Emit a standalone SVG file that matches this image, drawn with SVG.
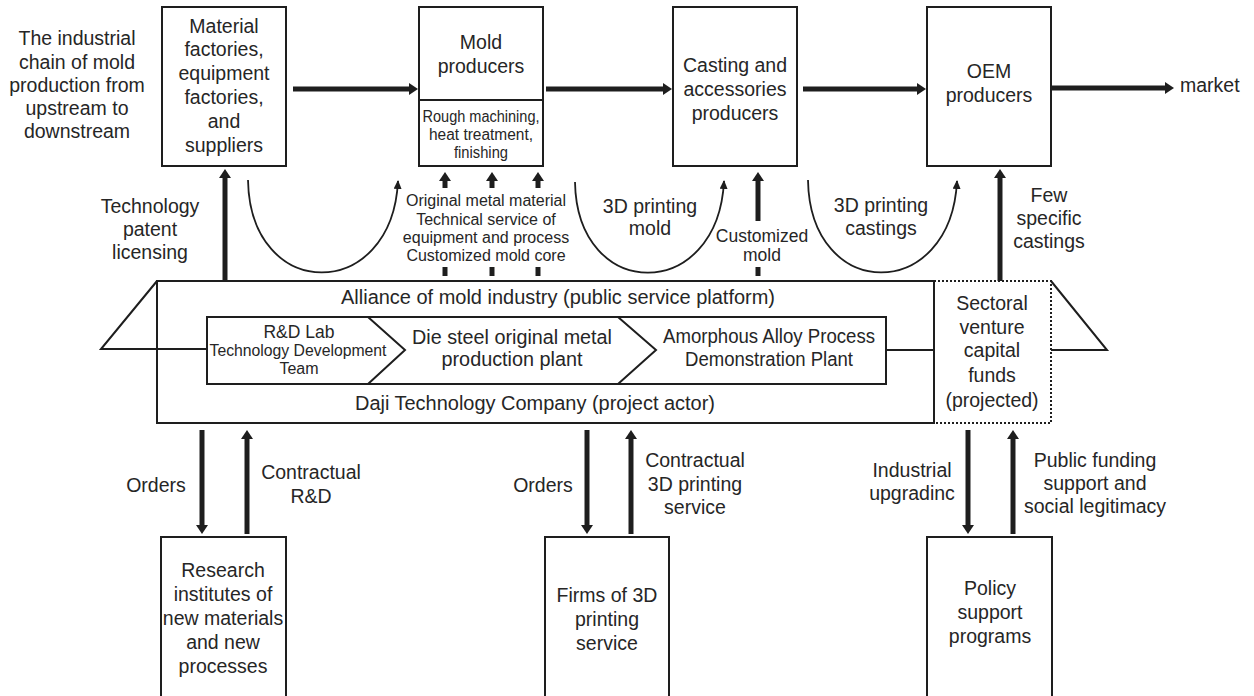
<svg xmlns="http://www.w3.org/2000/svg" width="1254" height="696" viewBox="0 0 1254 696">
<defs>
<style>
text{font-family:"Liberation Sans",Arial,Helvetica,sans-serif;fill:#262626;text-anchor:middle;font-size:19.5px}
.s16{font-size:16px}
.s17{font-size:17.5px}
.box{fill:#fff;stroke:#1e1e1e;stroke-width:2}
.ln{fill:none;stroke:#1e1e1e;stroke-width:2}
.thick{fill:none;stroke:#1e1e1e;stroke-width:5}
.thin{fill:none;stroke:#1e1e1e;stroke-width:1.8}
.dot{fill:none;stroke:#1e1e1e;stroke-width:2;stroke-dasharray:2 2}
</style>
<marker id="ah" markerUnits="userSpaceOnUse" viewBox="0 0 9 12" refX="0" refY="6" markerWidth="9" markerHeight="12" orient="auto"><path d="M0,0 L9,6 L0,12 z" fill="#1e1e1e"/></marker>
<marker id="ahs" markerUnits="userSpaceOnUse" viewBox="0 0 9 8" refX="8" refY="4" markerWidth="9" markerHeight="8" orient="auto"><path d="M0,0 L9,4 L0,8 z" fill="#1e1e1e"/></marker>
</defs>
<rect width="1254" height="696" fill="#fff"/>

<g id="chain-label">
<text x="77" y="45">The industrial</text>
<text x="77" y="68.5">chain of mold</text>
<text x="77" y="92">production from</text>
<text x="77" y="115">upstream to</text>
<text x="77" y="138">downstream</text>
</g>

<g id="material">
<rect class="box" x="162" y="7" width="124" height="159"/>
<text x="224" y="32.5">Material</text>
<text x="224" y="56.3">factories,</text>
<text x="224" y="80.1">equipment</text>
<text x="224" y="103.9">factories,</text>
<text x="224" y="127.7">and</text>
<text x="224" y="151.5">suppliers</text>
</g>

<g id="mold">
<rect class="box" x="419" y="7" width="124" height="159"/>
<line class="ln" x1="419" y1="100" x2="543" y2="100"/>
<text x="481" y="49">Mold</text>
<text x="481" y="73">producers</text>
<text class="s16" x="481" y="122" textLength="117" lengthAdjust="spacingAndGlyphs">Rough machining,</text>
<text class="s16" x="481" y="140" textLength="104" lengthAdjust="spacingAndGlyphs">heat treatment,</text>
<text class="s16" x="481" y="158" textLength="54" lengthAdjust="spacingAndGlyphs">finishing</text>
</g>

<g id="casting">
<rect class="box" x="673" y="7" width="124" height="159"/>
<text x="735" y="72">Casting and</text>
<text x="735" y="96">accessories</text>
<text x="735" y="120">producers</text>
</g>

<g id="oem">
<rect class="box" x="927" y="7" width="124" height="159"/>
<text x="989" y="78">OEM</text>
<text x="989" y="102">producers</text>
</g>

<g id="market">
<text x="1180" y="92" style="text-anchor:start">market</text>
</g>

<g id="platform">
<path class="ln" d="M157,281 L101,349 L207,349"/>
<rect class="ln" x="157" y="281" width="777" height="142"/>
<text x="558" y="304" textLength="434" lengthAdjust="spacingAndGlyphs">Alliance of mold industry (public service platform)</text>
<text x="535" y="410" textLength="360" lengthAdjust="spacingAndGlyphs">Daji Technology Company (project actor)</text>
<rect class="ln" x="207" y="317" width="679" height="67"/>
<path class="ln" d="M368,317 L405,350 L368,384"/>
<path class="ln" d="M618,317 L656,350 L618,384"/>
<line class="ln" x1="886" y1="350" x2="934" y2="350"/>
<text class="s17" x="299" y="338">R&amp;D Lab</text>
<text class="s16" x="298" y="356" textLength="177" lengthAdjust="spacingAndGlyphs">Technology Development</text>
<text class="s16" x="299" y="374">Team</text>
<text x="512" y="344" textLength="200" lengthAdjust="spacingAndGlyphs">Die steel original metal</text>
<text x="512" y="366" textLength="141" lengthAdjust="spacingAndGlyphs">production plant</text>
<text x="769" y="343" textLength="212" lengthAdjust="spacingAndGlyphs">Amorphous Alloy Process</text>
<text x="769" y="366" textLength="168" lengthAdjust="spacingAndGlyphs">Demonstration Plant</text>
</g>

<g id="venture">
<path class="dot" d="M934,281 H1051 V423 H934"/>
<path class="ln" d="M1051,281 L1107,350 L1051,350"/>
<text x="992" y="310">Sectoral</text>
<text x="992" y="334">venture</text>
<text x="992" y="357">capital</text>
<text x="992" y="382">funds</text>
<text x="992" y="407">(projected)</text>
</g>

<g id="research">
<rect class="box" x="161" y="537" width="125" height="170"/>
<text x="223" y="577">Research</text>
<text x="223" y="601">institutes of</text>
<text x="223" y="625">new materials</text>
<text x="223" y="649">and new</text>
<text x="223" y="673">processes</text>
</g>

<g id="firms">
<rect class="box" x="545" y="537" width="124" height="170"/>
<text x="607" y="602">Firms of 3D</text>
<text x="607" y="626">printing</text>
<text x="607" y="650">service</text>
</g>

<g id="policy">
<rect class="box" x="927" y="537" width="125" height="170"/>
<text x="990" y="595">Policy</text>
<text x="990" y="619">support</text>
<text x="990" y="643">programs</text>
</g>

<g id="connectors">
<line class="thick" x1="293" y1="89" x2="409" y2="89" marker-end="url(#ah)"/>
<line class="thick" x1="546" y1="89" x2="663" y2="89" marker-end="url(#ah)"/>
<line class="thick" x1="803" y1="89" x2="917" y2="89" marker-end="url(#ah)"/>
<line class="thick" x1="1052" y1="88" x2="1165" y2="88" marker-end="url(#ah)"/>

<line class="thick" x1="225" y1="281" x2="225" y2="178" marker-end="url(#ah)"/>
<line class="thick" x1="1000" y1="281" x2="1000" y2="178" marker-end="url(#ah)"/>

<line class="thick" x1="445" y1="188" x2="445" y2="181" marker-end="url(#ah)"/>
<line class="thick" x1="492" y1="188" x2="492" y2="181" marker-end="url(#ah)"/>
<line class="thick" x1="538" y1="188" x2="538" y2="181" marker-end="url(#ah)"/>
<line class="thick" x1="445" y1="267" x2="445" y2="276"/>
<line class="thick" x1="492" y1="267" x2="492" y2="276"/>
<line class="thick" x1="538" y1="267" x2="538" y2="276"/>
<line class="thick" x1="758" y1="221" x2="758" y2="181" marker-end="url(#ah)"/>
<line class="thick" x1="758" y1="267" x2="758" y2="276"/>

<path class="thin" d="M248,180 C250,303 392,303 398,181" marker-end="url(#ahs)"/>
<path class="thin" d="M575,182 C577,303 718,303 724,181" marker-end="url(#ahs)"/>
<path class="thin" d="M808,180 C810,303 951,303 957,181" marker-end="url(#ahs)"/>

<line class="thick" x1="202" y1="430" x2="202" y2="525" marker-end="url(#ah)"/>
<line class="thick" x1="247" y1="534" x2="247" y2="439" marker-end="url(#ah)"/>
<line class="thick" x1="587" y1="430" x2="587" y2="525" marker-end="url(#ah)"/>
<line class="thick" x1="631" y1="534" x2="631" y2="439" marker-end="url(#ah)"/>
<line class="thick" x1="968" y1="430" x2="968" y2="525" marker-end="url(#ah)"/>
<line class="thick" x1="1013" y1="534" x2="1013" y2="439" marker-end="url(#ah)"/>
</g>

<g id="connector-labels">
<text x="150" y="213">Technology</text>
<text x="150" y="236">patent</text>
<text x="150" y="259">licensing</text>
<text class="s16" x="486" y="206">Original metal material</text>
<text class="s16" x="486" y="224.5">Technical service of</text>
<text class="s16" x="486" y="243">equipment and process</text>
<text class="s16" x="486" y="261">Customized mold core</text>
<text x="650" y="213">3D printing</text>
<text x="650" y="235">mold</text>
<text class="s17" x="762" y="242">Customized</text>
<text class="s17" x="762" y="261">mold</text>
<text x="881" y="212">3D printing</text>
<text x="881" y="235">castings</text>
<text x="1049" y="202">Few</text>
<text x="1049" y="225">specific</text>
<text x="1049" y="248">castings</text>
<text x="156" y="492">Orders</text>
<text x="311" y="479">Contractual</text>
<text x="311" y="503">R&amp;D</text>
<text x="543" y="492">Orders</text>
<text x="695" y="467">Contractual</text>
<text x="695" y="491">3D printing</text>
<text x="695" y="514">service</text>
<text x="912" y="477">Industrial</text>
<text x="912" y="500">upgradinc</text>
<text x="1095" y="467">Public funding</text>
<text x="1095" y="490">support and</text>
<text x="1095" y="513">social legitimacy</text>
</g>
</svg>
